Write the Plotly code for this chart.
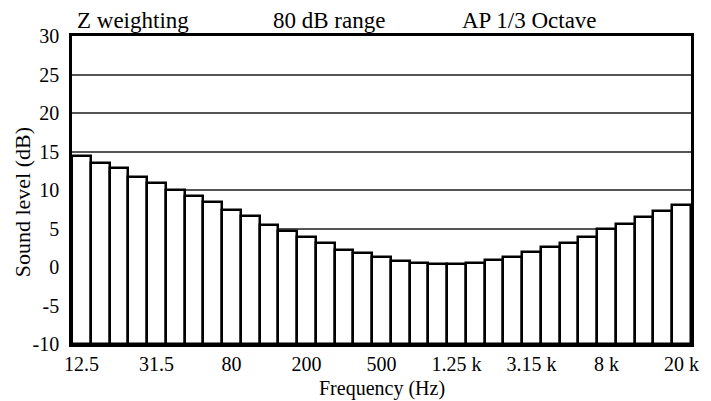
import plotly.graph_objects as go

bands = ["12.5", "16", "20", "25", "31.5", "40", "50", "63", "80", "100", "125", "160",
         "200", "250", "315", "400", "500", "630", "800", "1 k", "1.25 k", "1.6 k", "2 k",
         "2.5 k", "3.15 k", "4 k", "5 k", "6.3 k", "8 k", "10 k", "12.5 k", "16 k", "20 k"]
levels = [14.4, 13.5, 12.9, 11.7, 10.9, 10.0, 9.2, 8.5, 7.4, 6.6, 5.5, 4.65, 3.9, 3.1,
          2.2, 1.8, 1.3, 0.8, 0.5, 0.4, 0.4, 0.5, 0.9, 1.3, 1.9, 2.6, 3.1, 3.9, 4.9, 5.6,
          6.5, 7.3, 8.1]
floor_db = -10
tick_labels = ["12.5", "31.5", "80", "200", "500", "1.25 k", "3.15 k", "8 k", "20 k"]
y_ticks = [-10, -5, 0, 5, 10, 15, 20, 25, 30]
header = ["Z weighting", "80 dB range", "AP 1/3 Octave"]

idx = list(range(len(bands)))
tick_idx = [bands.index(t) for t in tick_labels]

FONT = "Liberation Serif"
W, H = 711, 401
L, R, T, B = 72, 16, 36, 57
pw = W - L - R

fig = go.Figure(go.Bar(
    x=idx,
    y=[v - floor_db for v in levels],
    base=floor_db,
    customdata=bands,
    hovertemplate="%{customdata} Hz: %{y}<extra></extra>",
    marker=dict(color="white", line=dict(color="black", width=2.5)),
))

ann = []
for text, px in zip(header, [75, 272, 463]):
    ann.append(dict(text=text, x=(px - L) / pw, xref="paper", xanchor="left",
                    y=1, yref="paper", yanchor="bottom", yshift=1, showarrow=False,
                    font=dict(family=FONT, size=23, color="black")))
ann.append(dict(text="Sound level (dB)", textangle=-90, x=(22 - L) / pw, xref="paper",
                xanchor="center", y=0.5, yref="paper", yanchor="middle", yshift=-12,
                showarrow=False, font=dict(family=FONT, size=22, color="black")))
ann.append(dict(text="Frequency (Hz)", x=0.5, xref="paper", xanchor="center",
                y=0, yref="paper", yanchor="top", yshift=-31, showarrow=False,
                font=dict(family=FONT, size=20, color="black")))

fig.update_layout(
    width=W, height=H,
    margin=dict(l=L, r=R, t=T, b=B),
    paper_bgcolor="white", plot_bgcolor="white",
    bargap=0, showlegend=False,
    font=dict(family=FONT, size=20, color="black"),
    annotations=ann,
    xaxis=dict(range=[-0.5, len(bands) - 0.5], tickmode="array", tickvals=tick_idx,
               ticktext=tick_labels, ticks="", showgrid=False, zeroline=False,
               showline=True, mirror=True, linecolor="black", linewidth=2.5,
               tickfont=dict(family=FONT, size=20, color="black"), ticklabelstandoff=0),
    yaxis=dict(range=[-10, 30], tickmode="array", tickvals=y_ticks,
               ticktext=[str(v) for v in y_ticks],
               ticks="", showgrid=True, gridcolor="#555555", gridwidth=1.5,
               zeroline=False, showline=True, mirror=True, linecolor="black",
               linewidth=2.5, tickfont=dict(family=FONT, size=20, color="black"),
               ticklabelstandoff=6),
)

fig.write_html("out.html")
